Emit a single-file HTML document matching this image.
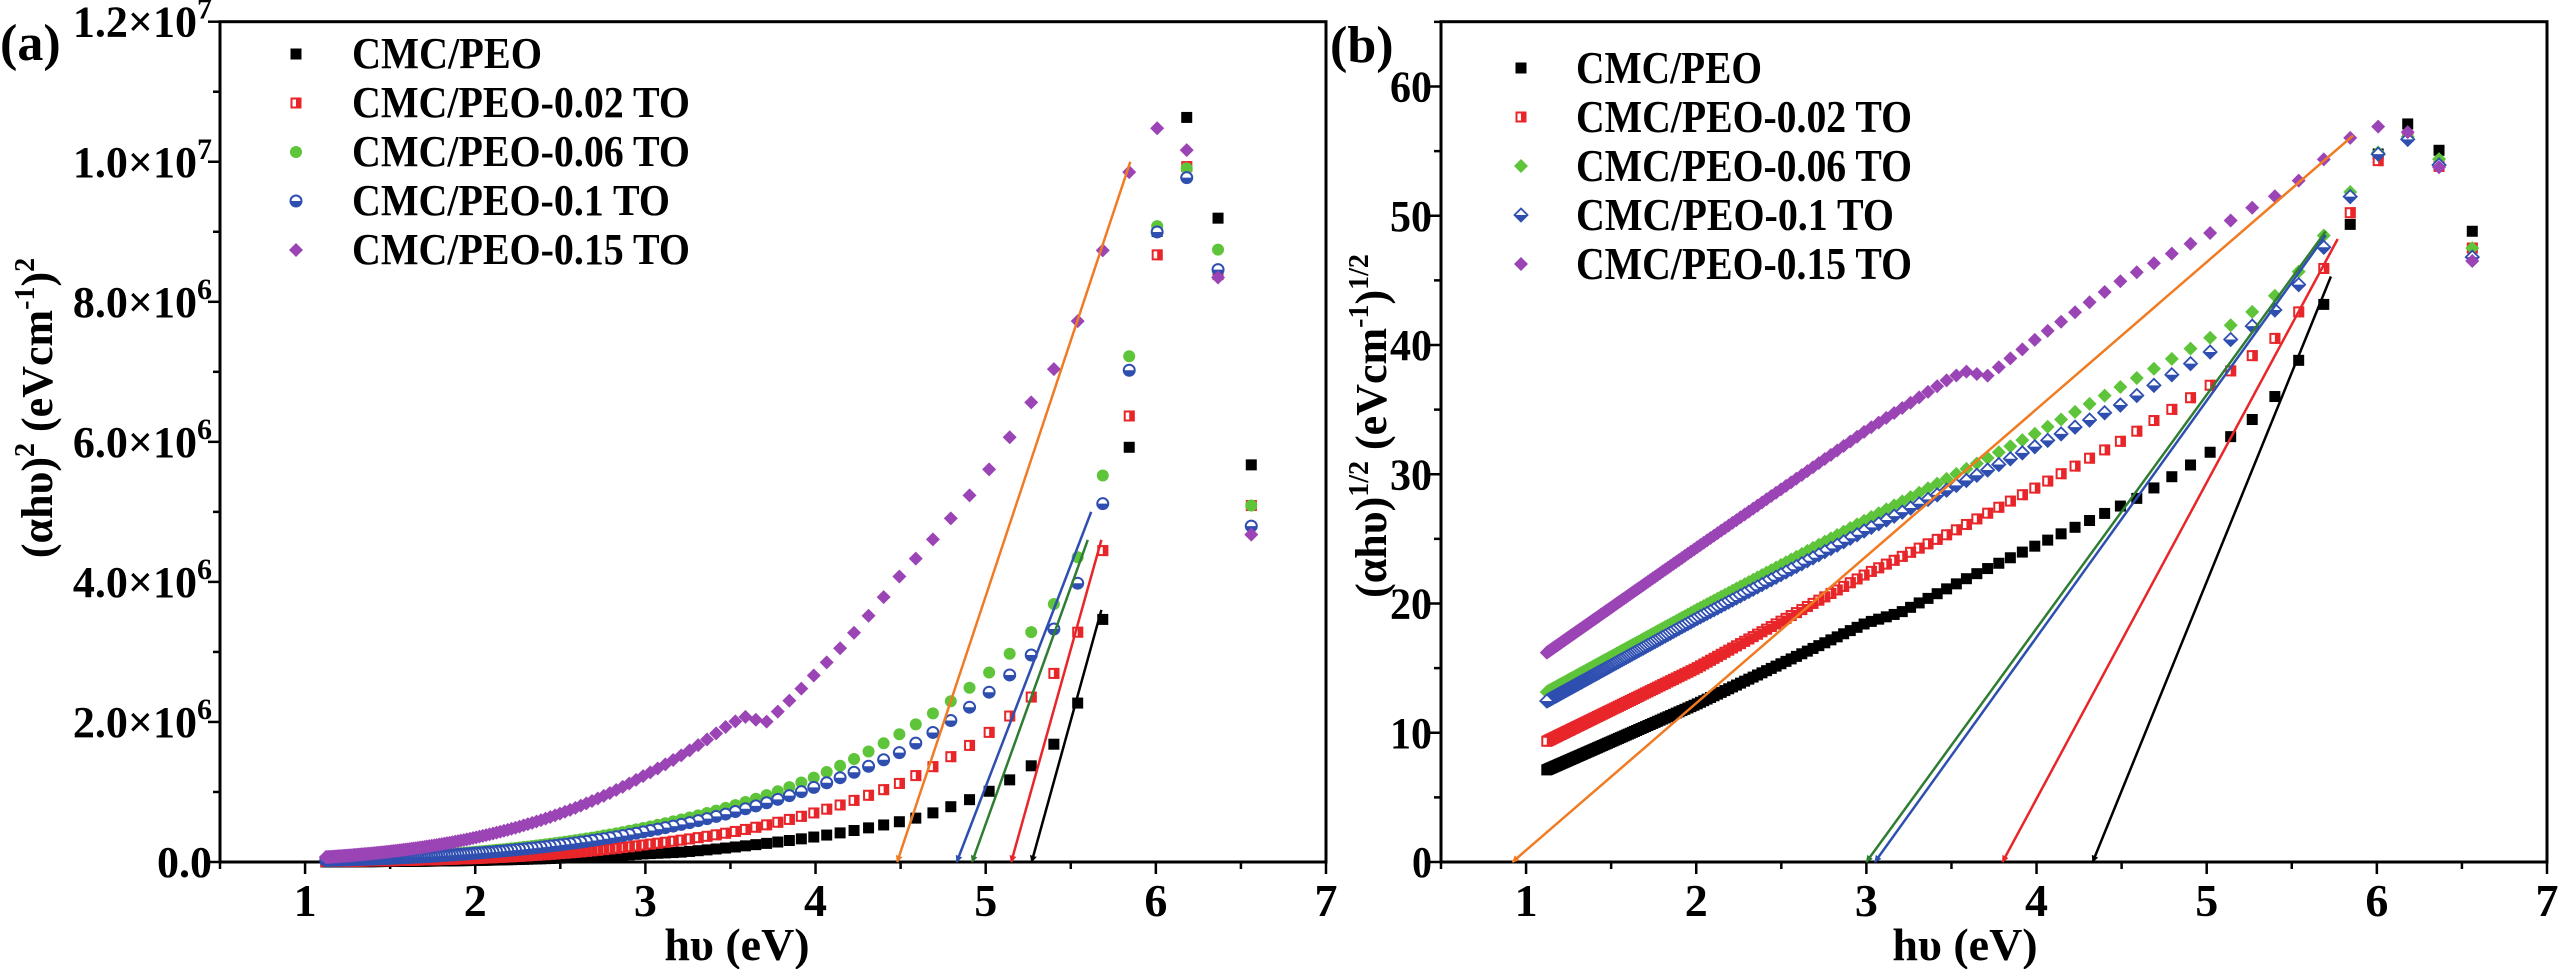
<!DOCTYPE html>
<html><head><meta charset="utf-8"><style>
html,body{margin:0;padding:0;background:#fff;}
svg{display:block;font-family:"Liberation Serif",serif;font-weight:bold;}
</style></head><body>
<svg id="s" width="2559" height="969" xmlns="http://www.w3.org/2000/svg">
<defs>
<marker id="ah" viewBox="0 0 10 10" refX="9" refY="5" markerWidth="7" markerHeight="7" orient="auto-start-reverse" markerUnits="userSpaceOnUse"><path d="M0,0L10,5L0,10z" fill="context-stroke"/></marker>
</defs>
<text x="0" y="60" font-size="52">(a)</text>
<text x="737" y="960" font-size="46" text-anchor="middle">hυ (eV)</text>
<text transform="translate(52,408) rotate(-90)" font-size="44" text-anchor="middle">(αhυ)<tspan font-size="28" dy="-18">2</tspan><tspan dy="18"> (eVcm</tspan><tspan font-size="28" dy="-18">-1</tspan><tspan dy="18">)</tspan><tspan font-size="28" dy="-18">2</tspan></text>
<text x="1330" y="62" font-size="52">(b)</text>
<text x="1965" y="960" font-size="46" text-anchor="middle">hυ (eV)</text>
<text transform="translate(1386,426) rotate(-90)" font-size="44" text-anchor="middle">(αhυ)<tspan font-size="28" dy="-18">1/2</tspan><tspan dy="18"> (eVcm</tspan><tspan font-size="28" dy="-18">-1</tspan><tspan dy="18">)</tspan><tspan font-size="28" dy="-18">1/2</tspan></text>
<g id="g"></g>
</svg>
<script>
var NS="http://www.w3.org/2000/svg",G=document.getElementById('g');
function el(t,a,txt){var e=document.createElementNS(NS,t);for(var k in a)e.setAttribute(k,a[k]);if(txt!==undefined)e.textContent=txt;G.appendChild(e);return e;}
var T=21.7,B=862;
var A={L:220,R:1326,x:function(v){return 220+(v-0.5)*(1106/6.5)},y:function(v){return 862-v/1.2e7*(862-21.7)}};
var Bp={L:1441,R:2547,x:function(v){return 1441+(v-0.5)*(1106/6.5)},y:function(v){return 862-v/60*(862-86.5)}};
[A,Bp].forEach(function(P){el('rect',{x:P.L,y:T,width:P.R-P.L,height:B-T,fill:'none',stroke:'#000','stroke-width':3});
 for(var v=0.5;v<=7.01;v+=0.5){var X=P.x(v);var maj=Math.abs(v-Math.round(v))<0.01;el('line',{x1:X,y1:B,x2:X,y2:B+(maj?12:7),stroke:'#000','stroke-width':2.5});
  if(maj)el('text',{x:X,y:916,'font-size':46,'text-anchor':'middle'},String(Math.round(v)));}
});
for(var i=0;i<=12;i++){var Y=A.y(i*1e6);el('line',{x1:A.L,y1:Y,x2:A.L-(i%2==0?12:7),y2:Y,stroke:'#000','stroke-width':2.5});}
var al=['0.0','2.0×10','4.0×10','6.0×10','8.0×10','1.0×10','1.2×10'];
for(var i=0;i<7;i++){var Y=A.y(i*2e6);var t=el('text',{x:212,y:Y+15,'font-size':44,'text-anchor':'end'});
 if(i==0)t.textContent='0.0';else{t.textContent=al[i];var ts=document.createElementNS(NS,'tspan');ts.setAttribute('font-size','30');ts.setAttribute('dy','-18');ts.textContent=(i>=5?'7':'6');t.appendChild(ts);}}
for(var v=0;v<=65;v+=5){var Y=Bp.y(v);el('line',{x1:Bp.L,y1:Y,x2:Bp.L-(v%10==0?12:7),y2:Y,stroke:'#000','stroke-width':2.5});
 if(v%10==0)el('text',{x:1432,y:Y+15,'font-size':44,'text-anchor':'end',textLength:(v==0?20:42),lengthAdjust:'spacingAndGlyphs'},String(v));}
var S=[
{c:'#000',m:'sq',m2:'sq',p:[[1.1,7],[2,12.2],[3,18.5],[3.2,19.3],[3.6,22],[4,24.5],[4.6,28.2],[5,31.5],[5.25,34],[5.4,36],[5.55,39],[5.7,43.5],[5.86,50],[6.03,55.5],[6.2,57.3],[6.4,54.6],[6.55,48.8]],n:'CMC/PEO'},
{c:'#e8262a',m:'hsq',m2:'hsq',p:[[1.1,9.2],[2,15],[3,22.3],[3.5,25.5],[4,29],[4.5,32.6],[5,36.7],[5.25,39],[5.4,40.5],[5.55,42.7],[5.7,46.2],[5.86,50.7],[6.03,54.8],[6.2,56.3],[6.4,53.3],[6.55,47.5]],n:'CMC/PEO-0.02 TO'},
{c:'#5ec43a',m:'ci',m2:'di',p:[[1.1,13],[2,19.5],[3,26.5],[3.6,30.5],[4,33.2],[4.5,36.8],[5,40.4],[5.25,42.4],[5.4,43.8],[5.55,45.8],[5.7,48.7],[5.86,52.2],[6.03,55.3],[6.2,56.2],[6.4,54],[6.55,47.5]],n:'CMC/PEO-0.06 TO'},
{c:'#2f4fb0',m:'hci',m2:'hdi',p:[[1.1,12.3],[2,18.8],[3,25.7],[3.6,29.6],[4,32.2],[4.5,35.4],[5,39.3],[5.25,41.3],[5.4,42.7],[5.55,44.8],[5.7,47.8],[5.86,51.9],[6.03,55.2],[6.2,56],[6.4,53.5],[6.55,46.8]],n:'CMC/PEO-0.1 TO'},
{c:'#9b44b5',m:'di',m2:'di',p:[[1.1,16],[2,24.3],[3,33.4],[3.5,37.5],[3.6,38],[3.7,37.5],[4,40.5],[4.5,45],[5,48.5],[5.25,50.5],[5.4,51.5],[5.55,52.8],[5.7,54.5],[5.86,56.2],[6.03,57],[6.2,56.4],[6.4,53.2],[6.55,46.5]],n:'CMC/PEO-0.15 TO'}];
function interp(p,e){for(var i=0;i<p.length-1;i++){if(e<=p[i+1][0]){var t=(e-p[i][0])/(p[i+1][0]-p[i][0]);return p[i][1]+t*(p[i+1][1]-p[i][1]);}}return p[p.length-1][1];}
function mk(type,X,Y,c){var r=5.5;
 if(type=='sq')el('rect',{x:X-r,y:Y-r,width:2*r,height:2*r,fill:c});
 else if(type=='hsq'){el('rect',{x:X-r+1,y:Y-r+1,width:2*r-2,height:2*r-2,fill:'#fff',stroke:c,'stroke-width':2});el('rect',{x:X,y:Y-r,width:r,height:2*r,fill:c});}
 else if(type=='ci')el('circle',{cx:X,cy:Y,r:r+0.5,fill:c});
 else if(type=='hci'){el('circle',{cx:X,cy:Y,r:r,fill:'#fff',stroke:c,'stroke-width':2});el('path',{d:'M'+(X-r)+','+Y+'A'+r+','+r+' 0 0 0 '+(X+r)+','+Y+'z',fill:c});}
 else if(type=='di')el('path',{d:'M'+X+','+(Y-7)+'L'+(X+7)+','+Y+'L'+X+','+(Y+7)+'L'+(X-7)+','+Y+'z',fill:c});
 else if(type=='hdi'){el('path',{d:'M'+X+','+(Y-6.5)+'L'+(X+6.5)+','+Y+'L'+X+','+(Y+6.5)+'L'+(X-6.5)+','+Y+'z',fill:'#fff',stroke:c,'stroke-width':1.8});el('path',{d:'M'+(X-6.5)+','+Y+'L'+(X+6.5)+','+Y+'L'+X+','+(Y+6.5)+'z',fill:c});}
}
var Es=[];for(var l=189;l<=1110;l+=5.8){Es.push(1240/l);}
S.forEach(function(s){Es.forEach(function(e){if(e<1.1||e>6.6)return;var v=interp(s.p,e);
 var va=Math.pow(v,4);mk(s.m,A.x(e),A.y(va),s.c);mk(s.m2,Bp.x(e),Bp.y(v),s.c);});});
S.forEach(function(s,i){var y=54+i*49;mk(s.m,296,y,s.c);el('text',{x:352,y:y+14,'font-size':44,textLength:(s.n.length>8?(s.n.length>14?338:318):190),lengthAdjust:'spacingAndGlyphs'},s.n);
 var y2=68+i*49;mk(s.m2,1521,y2,s.c);el('text',{x:1576,y:y2+15,'font-size':46,textLength:(s.n.length>8?(s.n.length>14?336:318):186),lengthAdjust:'spacingAndGlyphs'},s.n);});
function ln(P,x1,y1,x2,y2,c){el('line',{x1:P.x(x2),y1:P.y(y2),x2:P.x(x1),y2:P.y(y1),stroke:c,'stroke-width':2.5,'marker-end':'url(#ah)'});}
ln(A,4.48,0,5.85,1e7,'#f07b22');ln(A,4.83,0,5.62,5e6,'#2f4fb0');ln(A,4.92,0,5.6,4.6e6,'#2e7d32');ln(A,5.15,0,5.68,4.6e6,'#e8262a');ln(A,5.27,0,5.68,3.6e6,'#000');
ln(Bp,0.92,0,5.86,56.2,'#f07b22');ln(Bp,3.0,0,5.7,48.8,'#2e7d32');ln(Bp,3.05,0,5.7,48.5,'#2f4fb0');ln(Bp,3.8,0,5.77,48.2,'#e8262a');ln(Bp,4.33,0,5.73,45.3,'#000');
</script>
</body></html>
